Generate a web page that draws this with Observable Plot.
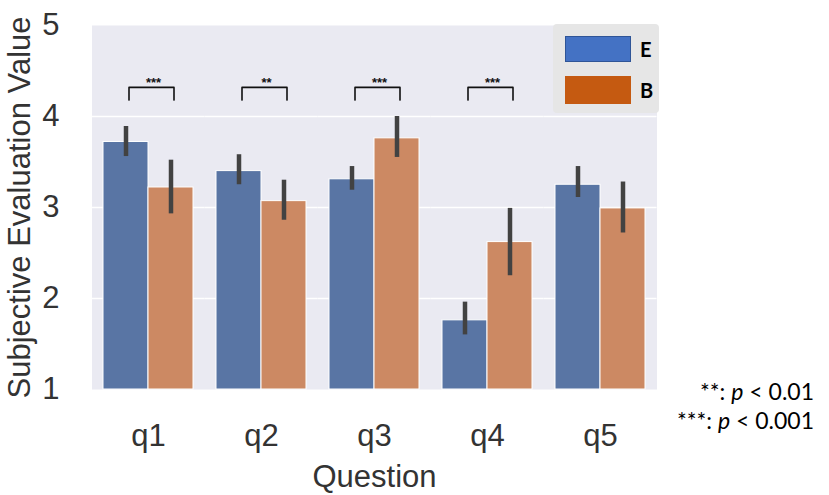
<!DOCTYPE html>
<html>
<head>
<meta charset="utf-8">
<script src="https://cdn.jsdelivr.net/npm/d3@7"></script>
<script src="https://cdn.jsdelivr.net/npm/@observablehq/plot@0.6"></script>
<style>
  html, body { margin: 0; padding: 0; background: white; }
  #wrap { position: relative; width: 829px; height: 495px; overflow: hidden; }
  #legend { position: absolute; left: 553px; top: 24px; width: 106px; height: 89px;
    background: #e6e6e6; border-radius: 4px; font-family: Lato, "Open Sans", sans-serif; }
  .sw { position: absolute; left: 12px; width: 66px; height: 26px; box-sizing: border-box; }
  .lt { position: absolute; left: 87px; font-weight: bold; font-size: 20px; color: #000; }
  #note { position: absolute; right: 15px; top: 377px; text-align: right;
    font-family: Lato, "Open Sans", sans-serif; font-size: 23px; line-height: 29px; color: #000; }
  #chart svg text { font-family: "Liberation Sans", Arial, sans-serif; }
</style>
</head>
<body>
<div id="wrap">
  <div id="chart"></div>
  <div id="legend">
    <div class="sw" style="top:12px;background:#4472c4;border:1px solid #2f5597"></div>
    <div class="lt" style="top:13px">E</div>
    <div class="sw" style="top:52px;height:28px;background:#c55a11;border:1px solid #c55a11"></div>
    <div class="lt" style="top:54px">B</div>
  </div>
  <div id="note">**: <i>p</i> &lt; 0.01<br>***: <i>p</i> &lt; 0.001</div>
</div>
<script>
const questions = ["q1", "q2", "q3", "q4", "q5"];
const groups = ["E", "B"];
const meanE = [3.72, 3.40, 3.31, 1.76, 3.25];
const loE   = [3.56, 3.25, 3.19, 1.60, 3.11];
const hiE   = [3.89, 3.58, 3.45, 1.96, 3.45];
const meanB = [3.22, 3.07, 3.76, 2.62, 2.99];
const loB   = [2.93, 2.86, 3.55, 2.25, 2.72];
const hiB   = [3.52, 3.30, 4.00, 2.99, 3.28];
const sig   = ["***", "**", "***", "***", ""];
const yTicks = [1, 2, 3, 4, 5];
const gridTicks = [2, 3, 4];
const bracketLow = 4.18, bracketHigh = 4.32, starLevel = 4.37;

const rows = questions.flatMap((q, i) => [
  {question: q, group: "E", mean: meanE[i], lo: loE[i], hi: hiE[i]},
  {question: q, group: "B", mean: meanB[i], lo: loB[i], hi: hiB[i]}
]);
const brackets = questions.flatMap((q, i) => sig[i] ? [
  {question: q, group: "E", y: bracketLow},
  {question: q, group: "E", y: bracketHigh},
  {question: q, group: "B", y: bracketHigh},
  {question: q, group: "B", y: bracketLow}
] : []);
const stars = questions.map((q, i) => ({question: q, text: sig[i]})).filter(d => d.text);

const chart = Plot.plot({
  width: 829,
  height: 495,
  marginTop: 25,
  marginBottom: 106,
  marginLeft: 92,
  marginRight: 172,
  style: {fontFamily: "'Liberation Sans', Arial, sans-serif", color: "#333", background: "white", overflow: "visible"},
  fx: {domain: questions, paddingInner: 0.2, paddingOuter: 0.1, label: null, axis: null},
  x: {domain: groups, padding: 0, axis: null},
  y: {domain: [1, 5], axis: null},
  color: {domain: groups, range: ["#5975a4", "#cc8963"]},
  marks: [
    Plot.frame({fill: "#eaeaf2", stroke: null, insetLeft: -11.5, insetRight: -11.5}),
    Plot.ruleY(gridTicks, {stroke: "white", strokeWidth: 1.6, insetLeft: -11.5, insetRight: -11.5}),
    Plot.barY(rows, {fx: "question", x: "group", y1: 1, y2: "mean", fill: "group", stroke: "white", strokeWidth: 1}),
    Plot.ruleX(rows, {fx: "question", x: "group", y1: "lo", y2: "hi", stroke: "#424242", strokeWidth: 4.5}),
    Plot.line(brackets, {fx: "question", x: "group", y: "y", z: "question", stroke: "#111", strokeWidth: 1.6, dx: 3, strokeLinejoin: "round"}),
    Plot.text(stars, {fx: "question", y: starLevel, text: "text", fontSize: 13, fontWeight: "bold", fill: "#111", dx: 5}),
    Plot.axisY({ticks: yTicks, tickFormat: "d", tickSize: 0, tickPadding: 44, fontSize: 31, label: "Subjective Evaluation Value", labelAnchor: "center", labelOffset: 96, labelArrow: "none"}),
    Plot.axisFx({anchor: "bottom", tickSize: 0, tickPadding: 34, fontSize: 31, label: "Question", labelAnchor: "center", labelOffset: 97, labelArrow: "none"})
  ]
});
document.getElementById("chart").appendChild(chart);
</script>
</body>
</html>
